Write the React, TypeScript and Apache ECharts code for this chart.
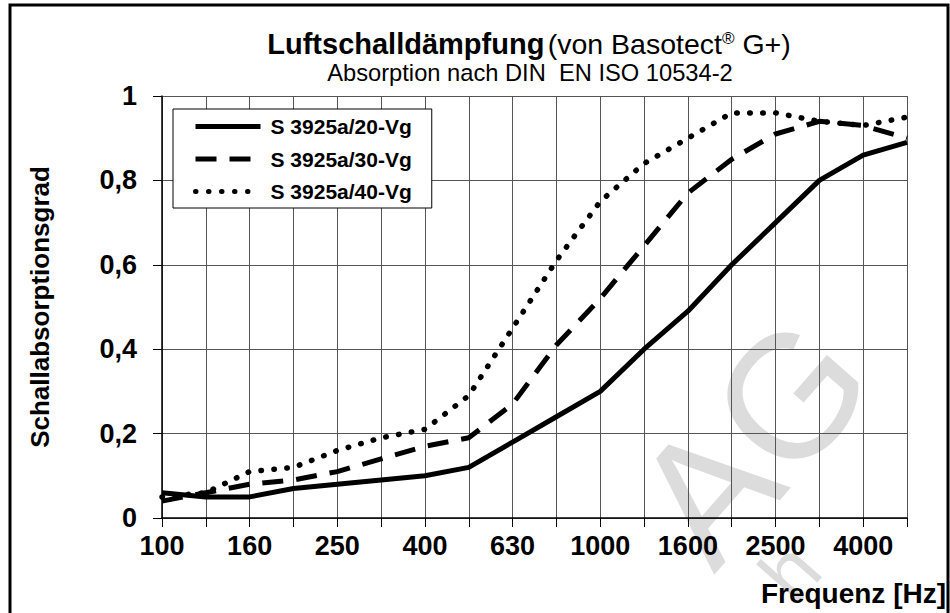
import React, { useEffect, useRef } from "react";
import * as echarts from "echarts";

const categories = ["100", "125", "160", "200", "250", "315", "400", "500", "630", "800", "1000", "1250", "1600", "2000", "2500", "3150", "4000", "5000"];
const s20 = [0.06, 0.05, 0.05, 0.07, 0.08, 0.09, 0.10, 0.12, 0.18, 0.24, 0.30, 0.40, 0.49, 0.60, 0.70, 0.80, 0.86, 0.89];
const s30 = [0.04, 0.06, 0.08, 0.09, 0.11, 0.14, 0.17, 0.19, 0.27, 0.41, 0.52, 0.645, 0.77, 0.85, 0.91, 0.94, 0.93, 0.90];
const s40 = [0.05, 0.06, 0.11, 0.12, 0.16, 0.19, 0.21, 0.29, 0.45, 0.61, 0.75, 0.84, 0.90, 0.96, 0.96, 0.94, 0.93, 0.95];
const seriesNames = ["S 3925a/20-Vg", "S 3925a/30-Vg", "S 3925a/40-Vg"];
const yTicks = [0, 0.2, 0.4, 0.6, 0.8, 1];

const FONT = "Liberation Sans, Arial, sans-serif";

export default function App() {
  const ref = useRef<HTMLDivElement>(null);
  useEffect(() => {
    document.body.style.margin = "0";
    const chart = echarts.init(ref.current!, null, { renderer: "svg" });
    const option: any = {
      animation: false,
      backgroundColor: "#fff",
      color: ["#000", "#000", "#000"],
      textStyle: { fontFamily: FONT },
      grid: { left: 162, right: 43, top: 96, bottom: 95, containLabel: false },
      xAxis: {
        type: "category",
        data: categories,
        boundaryGap: false,
        axisLine: { show: true, lineStyle: { color: "#000", width: 1.5 } },
        axisTick: { show: true, interval: 0, length: 9, inside: false, lineStyle: { color: "#000", width: 1 } },
        axisLabel: { interval: 1, color: "#000", fontSize: 27, fontWeight: "bold", fontFamily: FONT, margin: 14 },
        splitLine: { show: true, interval: 0, lineStyle: { color: "#555", width: 1 } },
      },
      yAxis: {
        type: "value",
        min: 0,
        max: 1,
        interval: 0.2,
        axisLine: { show: true, lineStyle: { color: "#000", width: 1.5 } },
        axisTick: { show: true, length: 9, lineStyle: { color: "#000", width: 1 } },
        axisLabel: {
          color: "#000",
          fontSize: 27,
          fontWeight: "bold",
          fontFamily: FONT,
          margin: 25,
          formatter: (v: number) => {
            const t = yTicks.find((x) => Math.abs(x - v) < 1e-6);
            const val = t === undefined ? v : t;
            return String(Math.round(val * 10) / 10).replace(".", ",");
          },
        },
        splitLine: { show: true, lineStyle: { color: "#555", width: 1 } },
      },
      legend: {
        show: true,
        orient: "vertical",
        left: 173,
        top: 109,
        backgroundColor: "#fff",
        borderColor: "#000",
        borderWidth: 1,
        borderRadius: 0,
        padding: [7, 20, 6, 20],
        itemWidth: 65,
        itemHeight: 21,
        itemGap: 11.5,
        data: seriesNames,
        itemStyle: { opacity: 0, borderWidth: 0 },
        lineStyle: { width: 5 },
        textStyle: { color: "#000", fontSize: 21, fontWeight: "bold", fontFamily: FONT, padding: [0, 0, 0, 5] },
      },
      series: [
        {
          name: seriesNames[0],
          type: "line",
          data: s20,
          symbol: "none",
          z: 5,
          itemStyle: { color: "#000" },
          lineStyle: { color: "#000", width: 5, type: "solid", join: "round" },
        },
        {
          name: seriesNames[1],
          type: "line",
          data: s30,
          symbol: "none",
          z: 4,
          itemStyle: { color: "#000" },
          lineStyle: { color: "#000", width: 5, type: [21, 13], cap: "butt" },
        },
        {
          name: seriesNames[2],
          type: "line",
          data: s40,
          symbol: "none",
          z: 3,
          itemStyle: { color: "#000" },
          lineStyle: { color: "#000", width: 5.5, type: [0.5, 12.5], cap: "round" },
        },
      ],
      graphic: [
        {
          type: "text",
          z: 0,
          x: 752,
          y: 440,
          rotation: 0.85,
          style: { text: "AG", fill: "#dcdcdc", font: `175px ${FONT}`, align: "center", verticalAlign: "middle" },
        },
        {
          type: "text",
          z: 0,
          x: 790,
          y: 572,
          rotation: 0.85,
          style: { text: "h", fill: "#dcdcdc", font: `80px ${FONT}`, align: "center", verticalAlign: "middle" },
        },
        {
          type: "rect",
          z: 100,
          shape: { x: 10, y: 5, width: 938, height: 620 },
          style: { fill: "none", stroke: "#000", lineWidth: 3 },
        },
        {
          type: "text",
          z: 100,
          x: 529,
          y: 44,
          style: {
            text: "{b|Luftschalldämpfung} {r|(von Basotect}{s|®}{r| G+)}",
            align: "center",
            verticalAlign: "middle",
            fill: "#000",
            rich: {
              b: { fontSize: 29, fontWeight: "bold", fontFamily: FONT, fill: "#000" },
              r: { fontSize: 28.5, fontFamily: FONT, fill: "#000" },
              s: { fontSize: 17, fontFamily: FONT, fill: "#000", verticalAlign: "top", padding: [0, 0, 10, 0] },
            },
          },
        },
        {
          type: "text",
          z: 100,
          x: 530,
          y: 73,
          style: {
            text: "Absorption nach DIN  EN ISO 10534-2",
            align: "center",
            verticalAlign: "middle",
            fill: "#000",
            font: `23.7px ${FONT}`,
          },
        },
        {
          type: "text",
          z: 100,
          x: 40,
          y: 307,
          rotation: Math.PI / 2,
          style: {
            text: "Schallabsorptionsgrad",
            align: "center",
            verticalAlign: "middle",
            fill: "#000",
            font: `bold 26px ${FONT}`,
          },
        },
        {
          type: "text",
          z: 100,
          x: 946,
          y: 593,
          style: {
            text: "Frequenz [Hz]",
            align: "right",
            verticalAlign: "middle",
            fill: "#000",
            font: `bold 28px ${FONT}`,
          },
        },
      ],
    };
    chart.setOption(option);
    return () => chart.dispose();
  }, []);
  return <div ref={ref} style={{ position: "fixed", left: 0, top: 0, width: 950, height: 613 }} />;
}
